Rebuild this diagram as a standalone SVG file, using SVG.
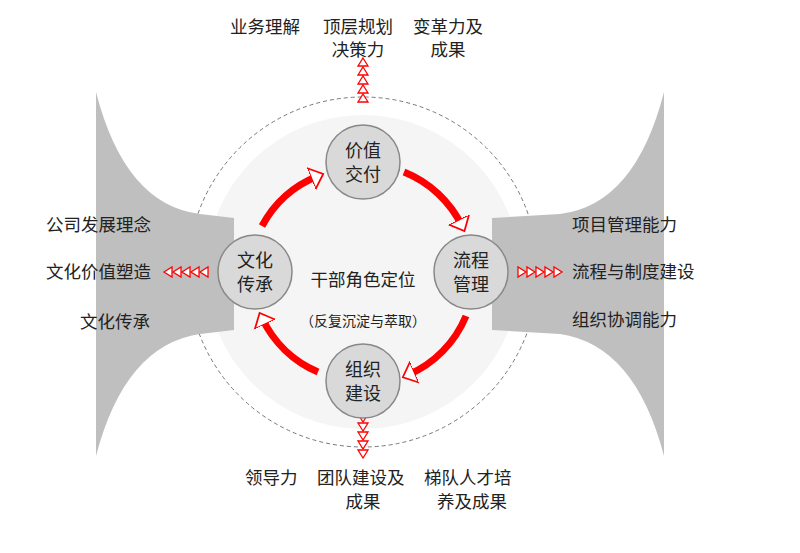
<svg xmlns="http://www.w3.org/2000/svg" width="800" height="553" viewBox="0 0 800 553">
<style>
text{font-family:"Liberation Sans","Noto Sans CJK SC",sans-serif;fill:#222;font-size:17.5px}
.n{font-size:18px;text-anchor:middle}
.node circle{fill:#d9d9d9;stroke:#888;stroke-width:1.5}
.ring{fill:none;stroke:#f00;stroke-width:7}
.tri{fill:#fff;stroke:#f00;stroke-width:1.3}
</style>
<defs>
<polygon id="tu" class="tri" points="0,-4 5,4 -5,4"/>
<marker id="ah" markerWidth="4" markerHeight="4" refX="1" refY="2" orient="auto" markerUnits="strokeWidth"><polygon points="0,0.4 1.8,2 0,3.6" fill="#fff" stroke="#f00" stroke-width="0.25"/></marker>
</defs>
<g id="bg">
<circle cx="363" cy="272" r="175" fill="#fff" stroke="#777" stroke-width="1" stroke-dasharray="4,3"/>
<circle cx="363" cy="272" r="157" fill="#f5f5f5"/>
<path d="M96,92 Q125,205 200,214 L234,218 L234,330 L200,334 Q125,345 96,456 Z" fill="#bfbfbf"/>
<path d="M664,92 Q635,205 560,214 L492,218 L492,330 L560,334 Q635,345 664,456 Z" fill="#bfbfbf"/>
</g>
<g id="connectors">
<path class="ring" d="M262,226 A110,110 0 0 1 318,176" marker-end="url(#ah)"/>
<path class="ring" d="M404,172 A110,110 0 0 1 462,226" marker-end="url(#ah)"/>
<path class="ring" d="M466,316 A110,110 0 0 1 408,375" marker-end="url(#ah)"/>
<path class="ring" d="M318,372 A110,110 0 0 1 262,318" marker-end="url(#ah)"/>
<g id="arrowsTop"><use href="#tu" x="363" y="62"/><use href="#tu" x="363" y="71"/><use href="#tu" x="363" y="80"/><use href="#tu" x="363" y="89"/><use href="#tu" x="363" y="98"/></g>
<g id="arrowsBottom" transform="rotate(180 363 437)"><use href="#tu" x="363" y="420"/><use href="#tu" x="363" y="429"/><use href="#tu" x="363" y="438"/><use href="#tu" x="363" y="447"/><use href="#tu" x="363" y="456"/></g>
<g id="arrowsLeft" transform="rotate(-90 186 272)"><use href="#tu" x="186" y="254"/><use href="#tu" x="186" y="263"/><use href="#tu" x="186" y="272"/><use href="#tu" x="186" y="281"/><use href="#tu" x="186" y="290"/></g>
<g id="arrowsRight" transform="rotate(90 540 272)"><use href="#tu" x="540" y="254"/><use href="#tu" x="540" y="263"/><use href="#tu" x="540" y="272"/><use href="#tu" x="540" y="281"/><use href="#tu" x="540" y="290"/></g>
</g>
<g id="n1" class="node"><circle cx="363" cy="162" r="37"/><text class="n" x="363" y="157">价值</text><text class="n" x="363" y="181">交付</text></g>
<g id="n2" class="node"><circle cx="255" cy="272" r="37"/><text class="n" x="255" y="267">文化</text><text class="n" x="255" y="291">传承</text></g>
<g id="n3" class="node"><circle cx="471" cy="272" r="37"/><text class="n" x="471" y="267">流程</text><text class="n" x="471" y="291">管理</text></g>
<g id="n4" class="node"><circle cx="363" cy="381" r="37"/><text class="n" x="363" y="376">组织</text><text class="n" x="363" y="400">建设</text></g>
<g id="center"><text x="363" y="286" text-anchor="middle">干部角色定位</text><text x="363" y="326" text-anchor="middle" style="font-size:14px">（反复沉淀与萃取）</text></g>
<g id="labels">
<text x="230" y="33">业务理解</text><text x="323" y="33">顶层规划</text><text x="413" y="33">变革力及</text>
<text x="358" y="56" text-anchor="middle">决策力</text><text x="448" y="56" text-anchor="middle">成果</text>
<text x="46" y="231">公司发展理念</text><text x="46" y="278">文化价值塑造</text><text x="80" y="328">文化传承</text>
<text x="572" y="231">项目管理能力</text><text x="572" y="278">流程与制度建设</text><text x="572" y="326">组织协调能力</text>
<text x="245" y="484">领导力</text><text x="317" y="484">团队建设及</text><text x="424" y="484">梯队人才培</text>
<text x="363" y="508" text-anchor="middle">成果</text><text x="437" y="508">养及成果</text>
</g>
</svg>
